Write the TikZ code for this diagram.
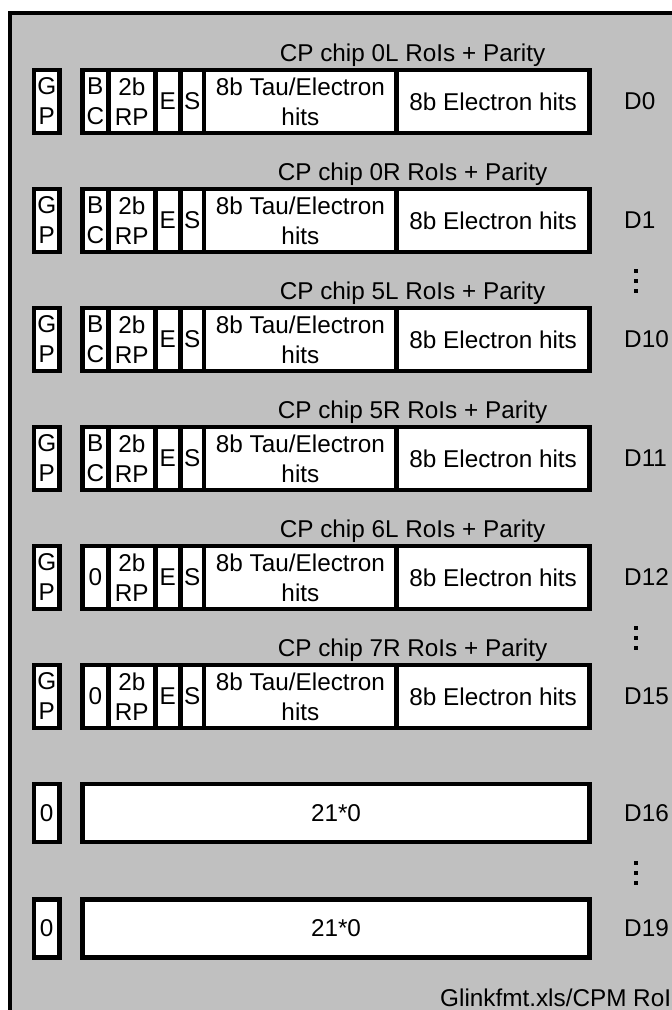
\documentclass[tikz,border=0pt]{standalone}
\usepackage{fontspec}
\setmainfont{Liberation Sans}
\definecolor{panelgray}{HTML}{C0C0C0}
\tikzset{
  txt/.style={font=\fontsize{24.3}{30}\selectfont},
  cell/.style={txt, draw=black, line width=4.5pt, fill=white, inner sep=0pt,
    align=center, minimum height=62.6pt},
  zcell/.style={cell, minimum height=58pt},
  lbl/.style={txt, inner sep=0pt},
  dot/.style={fill=black, draw=none, minimum size=4pt, inner sep=0pt, rectangle}
}
\newcommand{\bitrow}[5]{%
  \node[cell, minimum width=25.2pt] (gp#1) at (46.7,#2) {G\\P};
  \node[cell, minimum width=26pt] (bc#1) at (95.3,#2) {#4};
  \node[cell, minimum width=47pt] (rp#1) at (131.8,#2) {2b\\RP};
  \node[cell, minimum width=25pt] (e#1) at (167.8,#2) {E};
  \node[cell, minimum width=23.9pt] (s#1) at (192.25,#2) {S};
  \node[cell, minimum width=192.4pt] (tau#1) at (300.4,#2) {8b Tau/Electron\\hits};
  \node[cell, minimum width=193.1pt] (el#1) at (493.15,#2) {8b Electron hits};
  \node[lbl, anchor=west] (lab#1) at (624,#2) {#5};
  \node[lbl, anchor=base] (ttl#1) at (412.5,{#2-40.3}) {#3};
}
\newcommand{\zerorow}[3]{%
  \node[zcell, minimum width=25.2pt] (zg#1) at (46.7,#2) {0};
  \node[zcell, minimum width=507.4pt] (zb#1) at (336,#2) {21*0};
  \node[lbl, anchor=west] (zlab#1) at (624,#2) {#3};
}
\newcommand{\vdotsat}[2]{%
  \node[dot] (#1a) at (636,{#2-10}) {};
  \node[dot] (#1b) at (636,#2) {};
  \node[dot] (#1c) at (636,{#2+10}) {};
}
\begin{document}
\begin{tikzpicture}[x=1pt,y=-1pt]
  \clip (0,0) rectangle (672,1010);
  \fill[white] (0,0) rectangle (672,1010);
  \draw[line width=4pt, fill=panelgray] (10,12.5) rectangle (720,1060);
  \bitrow{0}{101.5}{CP chip 0L RoIs + Parity}{B\\C}{D0}
  \bitrow{1}{220.5}{CP chip 0R RoIs + Parity}{B\\C}{D1}
  \bitrow{10}{339.5}{CP chip 5L RoIs + Parity}{B\\C}{D10}
  \bitrow{11}{458.5}{CP chip 5R RoIs + Parity}{B\\C}{D11}
  \bitrow{12}{577.5}{CP chip 6L RoIs + Parity}{0}{D12}
  \bitrow{15}{696.5}{CP chip 7R RoIs + Parity}{0}{D15}
  \zerorow{16}{813}{D16}
  \zerorow{19}{928.5}{D19}
  \vdotsat{da}{280.5}
  \vdotsat{db}{637.5}
  \vdotsat{dc}{872.5}
  \node[lbl, anchor=base west] (foot) at (440,1006) {Glinkfmt.xls/CPM RoI};
\end{tikzpicture}
\end{document}
